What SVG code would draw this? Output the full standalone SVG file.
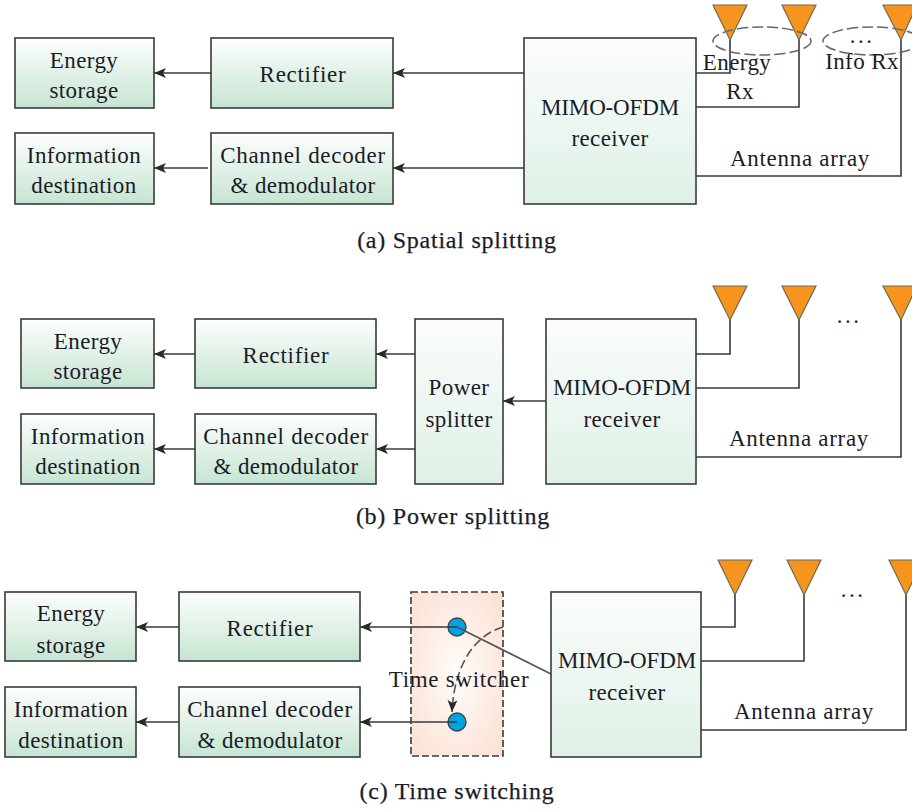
<svg xmlns="http://www.w3.org/2000/svg" width="912" height="810" viewBox="0 0 912 810">
<style>
text{font-family:"Liberation Serif","DejaVu Serif",serif;font-size:23px;fill:#1c1c28;text-anchor:middle;letter-spacing:.4px}
.w{letter-spacing:.7px}
.n{letter-spacing:-.15px}
.d{letter-spacing:2.5px}
.cap{font-size:24px;letter-spacing:.75px;stroke:#1c1c28;stroke-width:.25px}
.b{fill:url(#g);stroke:#3a3a3a;stroke-width:1.6}
.m{fill:url(#gm);stroke:#3a3a3a;stroke-width:1.6}
.c{fill:none;stroke:#3a3a3a;stroke-width:1.6}
.a{fill:none;stroke:#3a3a3a;stroke-width:1.6;marker-end:url(#ar)}
.t{fill:#f7941d;stroke:#6b6b5a;stroke-width:1.2}
.e{fill:none;stroke:#666;stroke-width:1.6;stroke-dasharray:11 4}
.o{fill:#00a4e4;stroke:#444;stroke-width:1.4}
</style>
<defs>
<linearGradient id="g" x1="0" y1="0" x2="0" y2="1"><stop offset="0" stop-color="#fdfefd"/><stop offset="1" stop-color="#c6e5d2"/></linearGradient>
<linearGradient id="gm" x1="0" y1="0" x2="0" y2="1"><stop offset="0" stop-color="#fbfdfb"/><stop offset="1" stop-color="#dff1e7"/></linearGradient>
<radialGradient id="gs" cx="0.5" cy="0.5" r="0.6"><stop offset="0" stop-color="#fffdfb"/><stop offset="1" stop-color="#fce3d6"/></radialGradient>
<marker id="ar" markerWidth="13" markerHeight="10" refX="12" refY="5" orient="auto" markerUnits="userSpaceOnUse"><path d="M0 0L12 5L0 10L3 5Z" fill="#2a2a2a"/></marker>
</defs>
<g id="connectors">
<path class="a" d="M211 73H154"/><path class="a" d="M524 73H393"/><path class="a" d="M208 168H154"/><path class="a" d="M524 168H393"/>
<path class="c" d="M696 73H730V38"/><path class="c" d="M696 107H799V38"/><path class="c" d="M696 176H901V38"/>
<path class="a" d="M195 354H154"/><path class="a" d="M415 354H376"/><path class="a" d="M195 449H154"/><path class="a" d="M415 449H376"/><path class="a" d="M546 401H503"/>
<path class="c" d="M696 354H730V318"/><path class="c" d="M696 388H799V318"/><path class="c" d="M696 457H901V318"/>
<path class="a" d="M179 627H136"/><path class="a" d="M179 722H136"/>
<path class="c" d="M701 627H735V593"/><path class="c" d="M701 661H804V593"/><path class="c" d="M701 730H906V593"/>
</g>
<g id="a-energy-storage"><rect class="b" x="15" y="38" width="139" height="70"/><text x="84" y="68">Energy</text><text x="84" y="98">storage</text></g>
<g id="a-rectifier"><rect class="b" x="211" y="38" width="182" height="70"/><text class="w" x="303" y="82">Rectifier</text></g>
<g id="a-information-destination"><rect class="b" x="15" y="133" width="139" height="71"/><text x="84" y="163">Information</text><text x="84" y="193">destination</text></g>
<g id="a-channel-decoder"><rect class="b" x="211" y="133" width="182" height="71"/><text class="w" x="303" y="163">Channel decoder</text><text x="303" y="193">&amp; demodulator</text></g>
<g id="a-mimo"><rect class="m" x="524" y="38" width="172" height="166"/><text class="n" x="610" y="115">MIMO-OFDM</text><text x="610" y="146">receiver</text></g>
<g id="a-antennas"><path class="t" d="M713 5H747L730 40Z"/><path class="t" d="M782 5H816L799 40Z"/><path class="t" d="M883 5H917L901 40Z"/>
<ellipse class="e" cx="762" cy="41" rx="49" ry="14"/><ellipse class="e" cx="872" cy="41" rx="49" ry="14"/>
<text x="737" y="70">Energy</text><text x="740" y="99">Rx</text><text class="d" x="862" y="43">...</text><text x="862" y="69">Info Rx</text><text class="w" x="800" y="166">Antenna array</text></g>
<text class="cap" x="457" y="248">(a) Spatial splitting</text>
<g id="b-energy-storage"><rect class="b" x="21" y="319" width="133" height="69"/><text x="88" y="349">Energy</text><text x="88" y="379">storage</text></g>
<g id="b-rectifier"><rect class="b" x="195" y="319" width="181" height="69"/><text class="w" x="286" y="363">Rectifier</text></g>
<g id="b-information-destination"><rect class="b" x="21" y="414" width="133" height="70"/><text x="88" y="444">Information</text><text x="88" y="474">destination</text></g>
<g id="b-channel-decoder"><rect class="b" x="195" y="414" width="181" height="70"/><text class="w" x="286" y="444">Channel decoder</text><text x="286" y="474">&amp; demodulator</text></g>
<g id="b-power-splitter"><rect class="m" x="415" y="319" width="88" height="165"/><text x="459" y="395">Power</text><text x="459" y="427">splitter</text></g>
<g id="b-mimo"><rect class="m" x="546" y="319" width="150" height="165"/><text class="n" x="622" y="395">MIMO-OFDM</text><text x="622" y="427">receiver</text></g>
<g id="b-antennas"><path class="t" d="M713 286H747L730 320Z"/><path class="t" d="M782 286H816L799 320Z"/><path class="t" d="M883 286H917L901 320Z"/>
<text class="d" x="849" y="323">...</text><text class="w" x="799" y="446">Antenna array</text></g>
<text class="cap" x="453" y="524">(b) Power splitting</text>
<g id="c-energy-storage"><rect class="b" x="5" y="592" width="131" height="69"/><text x="71" y="621">Energy</text><text x="71" y="653">storage</text></g>
<g id="c-rectifier"><rect class="b" x="179" y="592" width="181" height="69"/><text class="w" x="270" y="636">Rectifier</text></g>
<g id="c-information-destination"><rect class="b" x="5" y="687" width="131" height="70"/><text x="71" y="717">Information</text><text x="71" y="748">destination</text></g>
<g id="c-channel-decoder"><rect class="b" x="179" y="687" width="181" height="70"/><text class="w" x="270" y="717">Channel decoder</text><text x="270" y="748">&amp; demodulator</text></g>
<g id="c-time-switcher"><rect x="411" y="592" width="92" height="164" fill="url(#gs)" stroke="#3a3a3a" stroke-width="1.6" stroke-dasharray="7 3"/>
<circle class="o" cx="457" cy="627" r="9"/><circle class="o" cx="457" cy="722" r="9"/>
<path class="a" d="M457 627H360"/><path class="a" d="M457 722H360"/>
<path d="M503 627C475 635 454 665 452 712" fill="none" stroke="#555" stroke-width="1.6" stroke-dasharray="9 4" marker-end="url(#ar)"/>
<path d="M457 627L551 674" fill="none" stroke="#555" stroke-width="1.6"/>
<text class="w" x="459" y="687">Time switcher</text></g>
<g id="c-mimo"><rect class="m" x="551" y="592" width="150" height="165"/><text class="n" x="627" y="668">MIMO-OFDM</text><text x="627" y="700">receiver</text></g>
<g id="c-antennas"><path class="t" d="M718 560H752L735 595Z"/><path class="t" d="M787 560H821L804 595Z"/><path class="t" d="M889 560H923L906 595Z"/>
<text class="d" x="853" y="597">...</text><text class="w" x="804" y="719">Antenna array</text></g>
<text class="cap" x="457" y="799">(c) Time switching</text>
</svg>
